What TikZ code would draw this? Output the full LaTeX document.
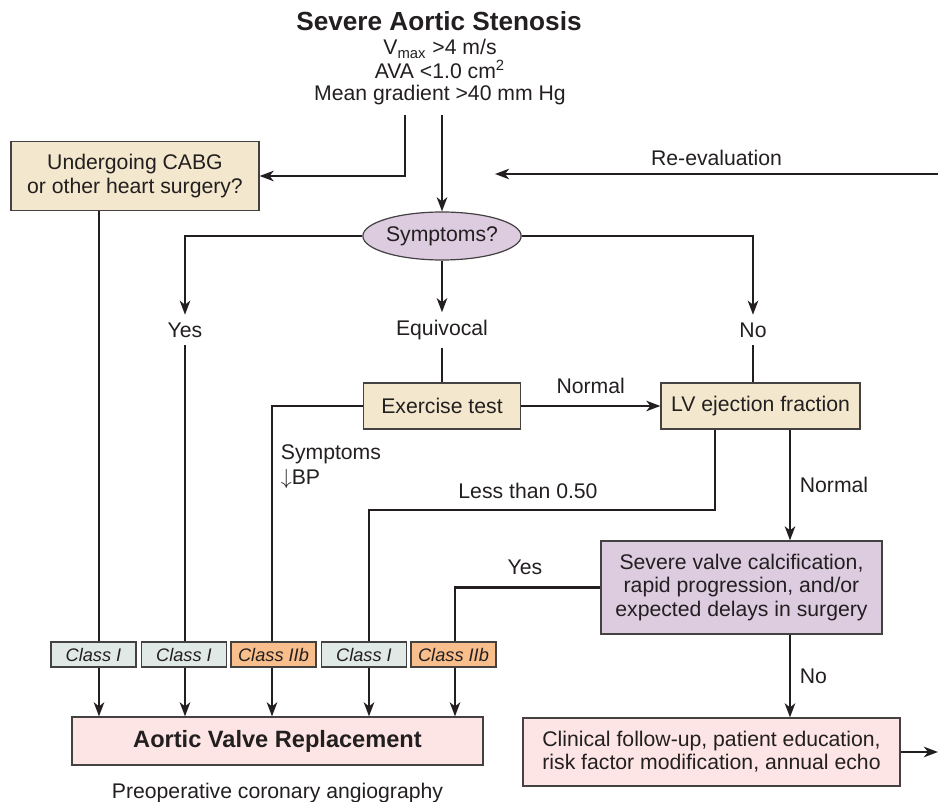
\documentclass[tikz,border=0pt]{standalone}
\usepackage{fontspec}
\setmainfont{Liberation Sans}
\usetikzlibrary{shapes,arrows.meta}
\definecolor{ink}{HTML}{231F20}
\definecolor{sand}{HTML}{F3E8CD}
\definecolor{lilac}{HTML}{DDCBE0}
\definecolor{blush}{HTML}{FCE5E4}
\definecolor{mist}{HTML}{E0E9E5}
\definecolor{apricot}{HTML}{F8BE8B}
\tikzset{
  flow/.style = {align=center, inner sep=0pt, text=ink, draw=ink!85,
    line width=0.6pt, font=\fontsize{10.6}{11.6}\selectfont},
  askbox/.style = {flow, rectangle, fill=sand},% question, beige
  askoval/.style = {flow, ellipse, fill=lilac,
    minimum width=79pt, minimum height=24pt},% symptoms question
  actbox/.style = {flow, rectangle, fill=blush},% what is done, pink
  classbox/.style = {flow, rectangle, minimum width=42.5pt,
    minimum height=12.5pt, font=\fontsize{9.1}{10}\selectfont\itshape},
  cls_i/.style = {classbox, fill=mist},% class I
  cls_iib/.style = {classbox, fill=apricot},% class IIb
  lbl/.style = {text=ink, font=\fontsize{10.6}{11.6}\selectfont}
}

\begin{document}
\begin{tikzpicture}[x=0.5pt, y=-0.5pt, ->,
  >={Stealth[length=7pt, width=5.2pt, inset=2pt]}, line width=1.2pt,
  color=ink]
\useasboundingbox (0,0) rectangle (938,802);

% heading
\node [lbl, font=\fontsize{13.1}{14}\selectfont\bfseries] (title) at (439,21)
  {Severe Aortic Stenosis};
\node [lbl, align=center, font=\fontsize{10.6}{11}\selectfont] (crit) at (440,72)
  {V\textsubscript{max} >4 m/s\\[0.6pt]AVA <1.0 cm\textsuperscript{2}\\Mean gradient >40 mm Hg};

% questions
\node [askbox, minimum width=124pt, minimum height=34.5pt] (cabg) at (135,176)
  {Undergoing CABG\\or other heart surgery?};
\node [askoval] (sympt) at (442,236) {Symptoms?};
\node [lbl] (yes) at (185,330) {Yes};
\node [lbl] (equiv) at (442,330) {Equivocal};
\node [lbl] (no) at (753,330) {No};
\node [askbox, minimum width=78.5pt, minimum height=23pt] (exer) at (442,406)
  {Exercise test};
\node [askbox, minimum width=99.5pt, minimum height=23pt] (lvef) at (760.5,406)
  {LV ejection fraction};
\node [askbox, fill=lilac, minimum width=140.5pt, minimum height=46.5pt] (calc)
  at (741.5,587.5)
  {Severe valve calcification,\\rapid progression, and/or\\expected delays in surgery};

% recommendation classes
\node [cls_i] (c1) at (93.5,654.5) {Class I};
\node [cls_i] (c2) at (184,654.5) {Class I};
\node [cls_iib] (c3) at (273.5,654.5) {Class IIb};
\node [cls_i] (c4) at (364,654.5) {Class I};
\node [cls_iib] (c5) at (453.5,654.5) {Class IIb};

% outcomes
\node [actbox, minimum width=205.5pt, minimum height=24pt,
  font=\fontsize{11.8}{13}\selectfont\bfseries] (avr) at (277.5,741)
  {Aortic Valve Replacement};
\node [actbox, minimum width=188.5pt, minimum height=34pt] (follow) at (711.5,752)
  {Clinical follow-up, patient education,\\risk factor modification, annual echo};
\node [lbl] (angio) at (277.5,793) {Preoperative coronary angiography};

% vertical lanes and loose ends
\coordinate (splitL) at (405,115);
\coordinate (splitR) at (442,115);
\coordinate (reeval) at (938,174);
\coordinate (reevalEnd) at (495,174);
\coordinate (fuOut) at (938,752);
\coordinate (lane1) at (99,0);
\coordinate (lane2) at (185,0);
\coordinate (lane3) at (272,0);
\coordinate (lane4) at (369,510);
\coordinate (lane5) at (455,0);
\coordinate (laneL) at (715,0);
\coordinate (laneR) at (790,0);

% connectors
\draw (splitL) |- (cabg.east);
\draw (splitR) -- (sympt.north);
\draw (reeval) -- node[lbl, above] {Re-evaluation} (reevalEnd);
\draw (sympt.west) -| (yes.north);
\draw (sympt.south) -- (equiv.north);
\draw (sympt.east) -| (no.north);
\draw [-] (cabg.south -| lane1) -- (c1.north -| lane1);
\draw [-] (yes.south) -- (c2.north -| lane2);
\draw [-] (equiv.south) -- (exer.north);
\draw [-] (no.south) -- (no.south |- lvef.north);
\draw (exer.east) -- node[lbl, above=2pt] {Normal} (lvef.west);
\draw [-] (exer.west) -| (c3.north -| lane3);
\node [lbl, align=left, anchor=north west, font=\fontsize{10.6}{12.2}\selectfont]
  (sbp) at (273,437) {Symptoms\\$\downarrow$BP};
\draw [-] (lvef.south -| laneL) |- (lane4) -- (c4.north -| lane4);
\node [lbl] (less) at (528,491) {Less than 0.50};
\draw (lvef.south -| laneR) -- node[lbl, right=1pt] {Normal} (calc.north -| laneR);
\draw [-] (calc.west) -| (c5.north -| lane5);
\node [lbl] (yes2) at (525,567) {Yes};
\draw (calc.south -| laneR) -- node[lbl, right=1pt] {No} (follow.north -| laneR);
\draw (follow.east) -- (fuOut);
\foreach \k in {1,...,5}
  \draw (c\k.south -| lane\k) -- (avr.north -| lane\k);
\end{tikzpicture}
\end{document}
